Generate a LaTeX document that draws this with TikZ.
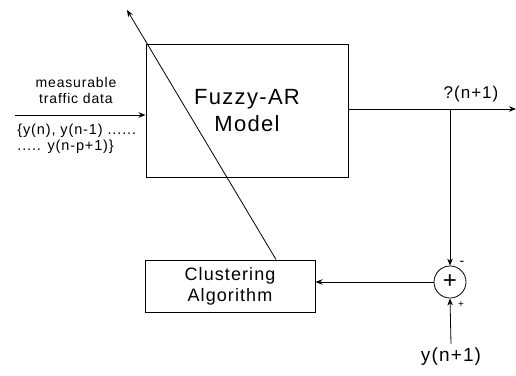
\documentclass[tikz,border=0pt]{standalone}
\usepackage{fontspec}
\setsansfont{Liberation Sans}
\newfontfamily\widesf{Liberation Sans}[LetterSpace=6]
\usetikzlibrary{arrows.meta}

\begin{document}
\begin{tikzpicture}[x=1pt, y=-1pt, font=\widesf, line width=0.8pt,
    >={Stealth[length=7pt, width=5.5pt]},
    block/.style={draw, line width=1pt, align=center, inner sep=0pt},
    lbl/.style={inner sep=0pt, font=\widesf\fontsize{14}{16}\selectfont}]
    \useasboundingbox (0,0) rectangle (516,375);

    % blocks
    \node[block, minimum width=202pt, minimum height=133pt,
          font=\widesf\fontsize{22}{27}\selectfont] (model) at (247,110.5) {Fuzzy-AR\\Model};
    \node[block, minimum width=170pt, minimum height=52pt,
          font=\widesf\fontsize{18}{21}\selectfont] (clust) at (230,286) {Clustering\\Algorithm};
    \node[draw, circle, minimum size=32pt, inner sep=0pt,
          font=\sffamily\fontsize{24}{24}\selectfont] (sum) at (450,282) {+};

    % coordinates
    \coordinate (in) at (15,115);
    \coordinate (out) at (516,109);
    \coordinate (tip) at (127,10);
    \coordinate (branch) at (sum |- out);
    \coordinate (adapt) at ([xshift=46pt]clust.north);

    % input
    \draw[->] (in) -- (in -| model.west);
    \node[lbl, align=center, above=6pt] (meas) at (76,110) {measurable\\traffic data};
    \node[lbl, align=left, anchor=north west,
          font=\widesf\fontsize{14.5}{16}\selectfont] (seq) at (17,124) {\{y(n), y(n-1) ......\\..... y(n-p+1)\}};

    % output
    \draw[->] (model.east |- out) -- (out);
    \node[lbl, font=\widesf\fontsize{17}{19}\selectfont, anchor=south] (yhat) at (471,102) {?(n+1)};

    % error path
    \draw[->] (branch) -- (sum.north);
    \node[lbl, font=\widesf\fontsize{19}{19}\selectfont] (yreal) at (451,357) {y(n+1)};
    \draw[->] (yreal.north) ++(0,-4) -- (sum.south);
    \node[lbl] (minus) at (462,263) {-};
    \node[lbl, font=\sffamily\fontsize{10}{10}\selectfont] (plus) at (461,305) {+};
    \draw[->] (sum.west) -- (sum.west -| clust.east);

    % adaptation arrow
    \draw[->] (adapt) -- (tip);
\end{tikzpicture}
\end{document}
